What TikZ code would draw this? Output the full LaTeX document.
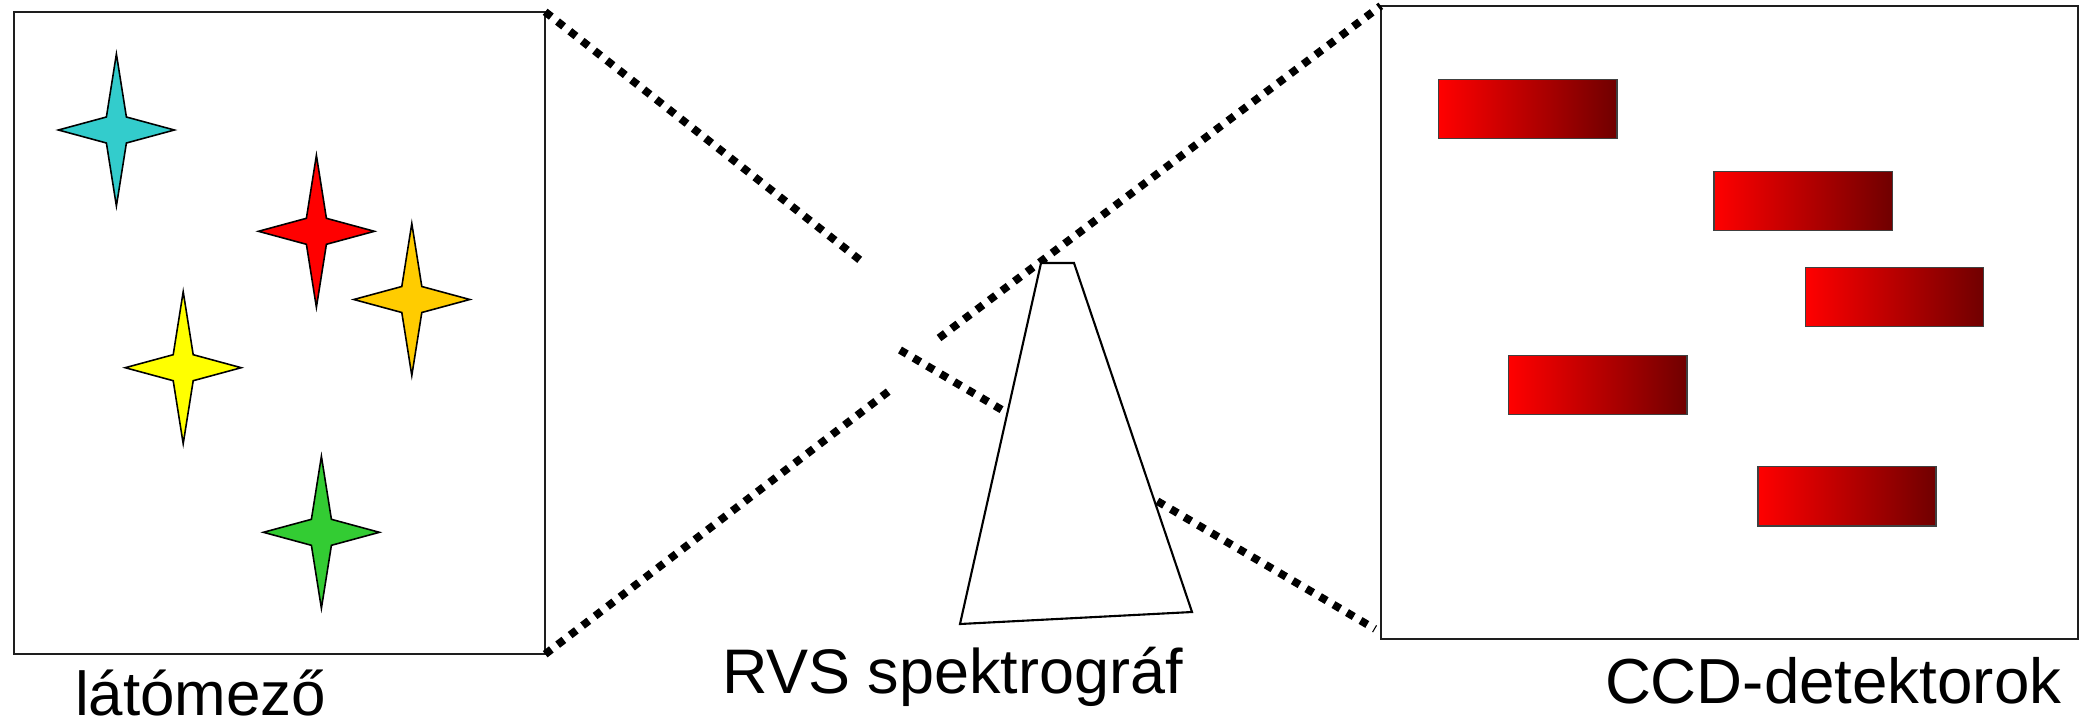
\documentclass[tikz,border=0pt]{standalone}
\usepackage{fontspec}
\setmainfont{Liberation Sans}
\definecolor{starcyan}{RGB}{51,204,204}
\definecolor{starred}{RGB}{255,0,0}
\definecolor{starorange}{RGB}{255,204,0}
\definecolor{staryellow}{RGB}{255,255,0}
\definecolor{stargreen}{RGB}{51,204,51}
\definecolor{ccddark}{RGB}{112,0,0}
\definecolor{boxline}{RGB}{30,30,30}
\tikzset{
  framebox/.style={draw=boxline, line width=0.45pt, inner sep=0pt, outer sep=0pt, fill=none},
  ccdrect/.style={draw=black!75, line width=0.4pt, inner sep=0pt, outer sep=0pt,
    minimum width=1.78cm, minimum height=0.59cm, left color=red, right color=ccddark},
  starline/.style={draw=black, line width=0.45pt, line join=miter},
  rayline/.style={line width=0.078cm, dash pattern=on 0.078cm off 0.079cm, line cap=butt},
  prismline/.style={draw=black, line width=0.6pt, fill=white, line join=miter},
  lbl/.style={inner sep=0pt, outer sep=0pt, anchor=base west},
  lblsize/.style={font=\fontsize{#1}{20pt}\selectfont}
}
\newcommand{\fourstar}[4]{%
  \coordinate (#1) at (#2,#3);
  \draw[starline, fill=#4, shift={(#2,#3)}]
    (0,-76) -- (10,-13) -- (58,0) -- (10,13) -- (0,76) -- (-10,13) -- (-58,0) -- (-10,-13) -- cycle;
}
\begin{document}
\begin{tikzpicture}[x=0.01cm, y=-0.01cm]
\useasboundingbox (0,0) rectangle (2080,721);

% frames
\node[framebox, minimum width=5.31cm, minimum height=6.42cm] (fov) at (279.5,333) {};
\node[framebox, minimum width=6.97cm, minimum height=6.33cm] (ccd) at (1729.5,322.5) {};

% stars
\fourstar{s1}{116.4}{130}{starcyan}
\fourstar{s2}{316.4}{231.3}{starred}
\fourstar{s3}{411.8}{299.5}{starorange}
\fourstar{s4}{183.2}{367.7}{staryellow}
\fourstar{s5}{321.4}{532.3}{stargreen}

% CCD detectors
\node[ccdrect] (r1) at (1527.8,109) {};
\node[ccdrect] (r2) at (1803.2,200.9) {};
\node[ccdrect] (r3) at (1894.7,297) {};
\node[ccdrect] (r4) at (1597.8,385.2) {};
\node[ccdrect] (r5) at (1846.9,496.3) {};

% ray end points
\coordinate (aEnd) at (865,264);
\coordinate (b1End) at (889,391);
\coordinate (b2Start) at (939,338);
\coordinate (cStart) at (900,350);
\coordinate (dEnd) at (1375,629);

% rays
\draw[rayline] (fov.north east) -- (aEnd);
\draw[rayline] (fov.south east) -- (b1End);
\draw[rayline] (b2Start) -- (ccd.north west);
\draw[rayline] (cStart) -- (dEnd);

% prism
\coordinate (p1) at (1041,263);
\coordinate (p2) at (1074,263);
\coordinate (p3) at (1192,612);
\coordinate (p4) at (960,624);
\draw[prismline] (p1) -- (p2) -- (p3) -- (p4) -- cycle;

% labels
\node[lbl, lblsize=17.6pt] (t1) at (75,715) {látómező};
\node[lbl, lblsize=17.9pt] (t2) at (722,693) {RVS spektrográf};
\node[lbl, lblsize=18.1pt] (t3) at (1605,703) {CCD-detektorok};
\end{tikzpicture}
\end{document}
